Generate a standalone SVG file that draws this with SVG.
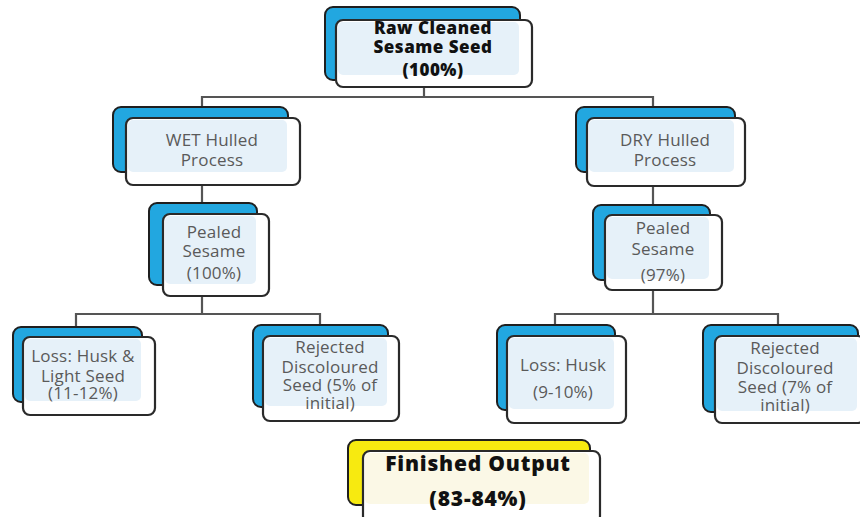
<svg xmlns="http://www.w3.org/2000/svg" width="860" height="517" viewBox="0 0 860 517">
<style>
.back{fill:#22a7e0;stroke:#1f1f1f;stroke-width:2}
.backY{fill:#f7ea10;stroke:#1f1f1f;stroke-width:2}
.front{fill:#ffffff;stroke:#2a2a2a;stroke-width:2.2}
.tint{fill:#e6f1f9}
.tintY{fill:#fbf8e6}
.t{font-family:"Open Sans","Liberation Sans",sans-serif;font-size:17px;fill:#5a5a5a;text-anchor:middle;letter-spacing:0.2px}
.tb{font-family:"Open Sans","Liberation Sans",sans-serif;font-size:17px;font-weight:800;fill:#111;text-anchor:middle;letter-spacing:0.5px}
.tbig{font-family:"Open Sans","Liberation Sans",sans-serif;font-size:21px;font-weight:800;fill:#111;text-anchor:middle;letter-spacing:0.8px}
.c{fill:none;stroke:#555;stroke-width:2.2}
</style>
<rect width="860" height="517" fill="#ffffff"/>
<g id="connectors">
<path class="c" d="M424,87 V97"/>
<path class="c" d="M202,108 V97 H653 V107"/>
<path class="c" d="M202,185 V204"/>
<path class="c" d="M202,296 V314"/>
<path class="c" d="M76,327 V314 H320 V325"/>
<path class="c" d="M653,186 V205"/>
<path class="c" d="M653,290 V314"/>
<path class="c" d="M555,325 V314 H778 V325"/>
</g>
<g id="raw">
<rect class="back" x="325" y="7" width="195" height="73" rx="8"/>
<rect class="front" x="336" y="20" width="196" height="67" rx="7"/>
<rect class="tint" x="338" y="22" width="181" height="53" rx="5"/>
<text class="tb" x="433" y="34">Raw Cleaned</text>
<text class="tb" x="433" y="53">Sesame Seed</text>
<text class="tb" x="433" y="76">(100%)</text>
</g>
<g id="wet">
<rect class="back" x="113" y="107" width="175" height="65" rx="8"/>
<rect class="front" x="126" y="118" width="174" height="67" rx="7"/>
<rect class="tint" x="128" y="120" width="159" height="52" rx="5"/>
<text class="t" x="212" y="146">WET Hulled</text>
<text class="t" x="212" y="166">Process</text>
</g>
<g id="dry">
<rect class="back" x="576" y="107" width="159" height="65" rx="8"/>
<rect class="front" x="587" y="118" width="158" height="68" rx="7"/>
<rect class="tint" x="589" y="120" width="145" height="52" rx="5"/>
<text class="t" x="665" y="146">DRY Hulled</text>
<text class="t" x="665" y="166">Process</text>
</g>
<g id="pealedWet">
<rect class="back" x="149" y="203" width="108" height="82" rx="8"/>
<rect class="front" x="163" y="214" width="106" height="82" rx="7"/>
<rect class="tint" x="165" y="216" width="91" height="68" rx="5"/>
<text class="t" x="214" y="238">Pealed</text>
<text class="t" x="214" y="257">Sesame</text>
<text class="t" x="214" y="279">(100%)</text>
</g>
<g id="pealedDry">
<rect class="back" x="593" y="205" width="117" height="75" rx="8"/>
<rect class="front" x="605" y="215" width="117" height="75" rx="7"/>
<rect class="tint" x="607" y="217" width="102" height="62" rx="5"/>
<text class="t" x="663" y="234">Pealed</text>
<text class="t" x="663" y="255">Sesame</text>
<text class="t" x="663" y="281">(97%)</text>
</g>
<g id="lossWet">
<rect class="back" x="13" y="327" width="129" height="75" rx="8"/>
<rect class="front" x="23" y="337" width="132" height="78" rx="7"/>
<rect class="tint" x="25" y="339" width="116" height="62" rx="5"/>
<text class="t" x="83" y="362">Loss: Husk &amp;</text>
<text class="t" x="83" y="382">Light Seed</text>
<text class="t" x="83" y="399">(11-12%)</text>
</g>
<g id="rejWet">
<rect class="back" x="253" y="325" width="135" height="82" rx="8"/>
<rect class="front" x="263" y="336" width="136" height="85" rx="7"/>
<rect class="tint" x="265" y="338" width="122" height="68" rx="5"/>
<text class="t" x="330" y="353">Rejected</text>
<text class="t" x="330" y="373">Discoloured</text>
<text class="t" x="330" y="391">Seed (5% of</text>
<text class="t" x="330" y="409">initial)</text>
</g>
<g id="lossDry">
<rect class="back" x="497" y="325" width="118" height="85" rx="8"/>
<rect class="front" x="507" y="336" width="119" height="87" rx="7"/>
<rect class="tint" x="509" y="338" width="105" height="71" rx="5"/>
<text class="t" x="563" y="371">Loss: Husk</text>
<text class="t" x="563" y="398">(9-10%)</text>
</g>
<g id="rejDry">
<rect class="back" x="703" y="325" width="155" height="87" rx="8"/>
<rect class="front" x="715" y="336" width="150" height="87" rx="7"/>
<rect class="tint" x="717" y="338" width="140" height="73" rx="5"/>
<text class="t" x="785" y="354">Rejected</text>
<text class="t" x="785" y="374">Discoloured</text>
<text class="t" x="785" y="393">Seed (7% of</text>
<text class="t" x="785" y="411">initial)</text>
</g>
<g id="finished">
<rect class="backY" x="348" y="440" width="242" height="65" rx="8"/>
<rect class="front" x="363" y="451" width="237" height="72" rx="7"/>
<rect class="tintY" x="365" y="453" width="224" height="51" rx="5"/>
<text class="tbig" x="478" y="471">Finished Output</text>
<text class="tbig" x="478" y="506">(83-84%)</text>
</g>
</svg>
